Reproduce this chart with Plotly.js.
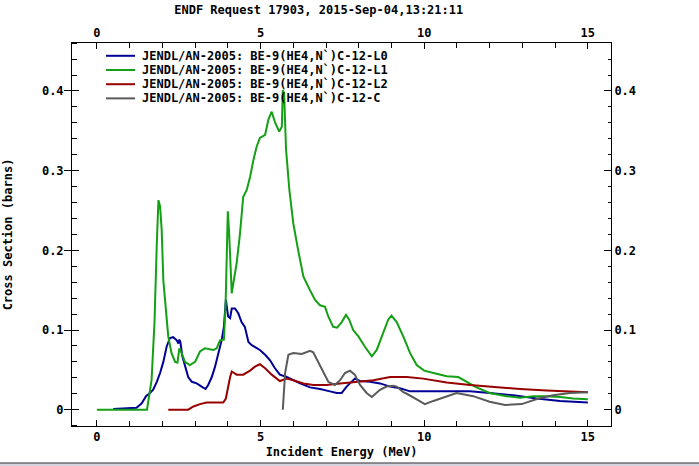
<!DOCTYPE html>
<html>
<head>
<meta charset="utf-8">
<script src="https://cdn.plot.ly/plotly-3.0.1.min.js"></script>
<style>html,body{margin:0;padding:0;background:#fff;}#chart{width:699px;height:466px;}</style>
</head>
<body>
<div id="chart"></div>
<script>
// ---- data ----
const seriesNames = [
  "JENDL/AN-2005: BE-9(HE4,N`)C-12-L0",
  "JENDL/AN-2005: BE-9(HE4,N`)C-12-L1",
  "JENDL/AN-2005: BE-9(HE4,N`)C-12-L2",
  "JENDL/AN-2005: BE-9(HE4,N`)C-12-C"
];

const l0E = [0.5, 1.21, 1.37, 1.5, 1.62, 1.72, 1.83, 1.93, 2.03, 2.13, 2.23, 2.33, 2.44, 2.49, 2.52, 2.55, 2.61, 2.69, 2.79, 2.9, 3.05, 3.2, 3.32, 3.4, 3.51, 3.61, 3.71, 3.81, 3.88, 3.94, 4.01, 4.07, 4.12, 4.22, 4.32, 4.42, 4.52, 4.63, 4.73, 4.88, 4.98, 5.14, 5.29, 5.44, 5.59, 5.8, 6.0, 6.21, 6.51, 6.82, 7.12, 7.33, 7.48, 7.63, 7.88, 8.04, 8.34, 8.65, 8.96, 9.26, 9.57, 9.87, 10.48, 11.4, 12.0, 12.72, 13.44, 14.15, 15.0];
const l0XS = [0.001, 0.0025, 0.008, 0.017, 0.021, 0.025, 0.035, 0.046, 0.060, 0.079, 0.090, 0.091, 0.087, 0.083, 0.088, 0.085, 0.067, 0.054, 0.041, 0.035, 0.033, 0.029, 0.026, 0.031, 0.041, 0.054, 0.071, 0.087, 0.104, 0.138, 0.117, 0.115, 0.127, 0.127, 0.121, 0.110, 0.104, 0.085, 0.081, 0.077, 0.075, 0.069, 0.062, 0.052, 0.044, 0.041, 0.037, 0.033, 0.028, 0.026, 0.023, 0.021, 0.021, 0.029, 0.039, 0.036, 0.035, 0.033, 0.029, 0.027, 0.023, 0.023, 0.023, 0.023, 0.021, 0.018, 0.014, 0.011, 0.009];

const l1E = [0, 1.53, 1.67, 1.76, 1.83, 1.88, 1.93, 1.98, 2.03, 2.11, 2.18, 2.28, 2.39, 2.46, 2.52, 2.59, 2.69, 2.84, 3.0, 3.15, 3.3, 3.56, 3.66, 3.76, 3.88, 3.93, 3.97, 4.0, 4.04, 4.07, 4.12, 4.17, 4.27, 4.37, 4.47, 4.58, 4.68, 4.78, 4.88, 4.98, 5.14, 5.24, 5.34, 5.44, 5.57, 5.65, 5.68, 5.72, 5.78, 5.88, 6.0, 6.15, 6.31, 6.51, 6.66, 6.82, 6.97, 7.07, 7.22, 7.34, 7.48, 7.61, 7.71, 7.83, 7.99, 8.19, 8.40, 8.55, 8.75, 8.90, 9.0, 9.16, 9.36, 9.57, 9.77, 10.0, 10.38, 10.69, 11.04, 11.3, 11.6, 12.0, 12.52, 12.93, 13.33, 13.74, 14.15, 14.56, 15.0];
const l1XS = [0, 0, 0.037, 0.11, 0.209, 0.263, 0.255, 0.225, 0.162, 0.121, 0.092, 0.071, 0.060, 0.059, 0.077, 0.071, 0.060, 0.056, 0.060, 0.073, 0.077, 0.075, 0.077, 0.087, 0.088, 0.129, 0.205, 0.249, 0.222, 0.184, 0.146, 0.159, 0.184, 0.220, 0.267, 0.276, 0.292, 0.313, 0.330, 0.341, 0.345, 0.364, 0.374, 0.361, 0.349, 0.355, 0.401, 0.397, 0.326, 0.276, 0.234, 0.200, 0.167, 0.150, 0.138, 0.131, 0.129, 0.117, 0.104, 0.103, 0.110, 0.119, 0.113, 0.100, 0.092, 0.079, 0.067, 0.075, 0.096, 0.113, 0.118, 0.110, 0.092, 0.071, 0.056, 0.049, 0.045, 0.042, 0.041, 0.035, 0.028, 0.021, 0.017, 0.015, 0.017, 0.017, 0.016, 0.014, 0.013];

const l2E = [2.18, 2.79, 2.95, 3.15, 3.35, 3.86, 3.94, 4.0, 4.07, 4.12, 4.27, 4.47, 4.68, 4.83, 4.98, 5.14, 5.34, 5.59, 5.80, 6.0, 6.31, 6.61, 7.02, 7.43, 7.94, 8.45, 8.96, 9.47, 9.97, 10.48, 10.69, 11.4, 12.21, 12.93, 13.74, 15.0];
const l2XS = [0, 0, 0.004, 0.007, 0.009, 0.009, 0.014, 0.029, 0.041, 0.048, 0.044, 0.044, 0.049, 0.054, 0.057, 0.052, 0.044, 0.036, 0.039, 0.037, 0.033, 0.031, 0.031, 0.033, 0.035, 0.037, 0.041, 0.041, 0.039, 0.036, 0.034, 0.031, 0.028, 0.026, 0.024, 0.022];

const cE = [5.68, 5.75, 5.85, 6.0, 6.26, 6.51, 6.61, 6.76, 6.92, 7.07, 7.27, 7.43, 7.58, 7.73, 7.88, 8.04, 8.24, 8.40, 8.65, 8.85, 9.06, 9.16, 9.36, 9.47, 9.77, 10.02, 10.28, 10.48, 10.99, 11.5, 12.0, 12.47, 12.98, 13.49, 13.94, 14.45, 15.0];
const cXS = [0, 0.046, 0.069, 0.071, 0.070, 0.074, 0.072, 0.060, 0.046, 0.035, 0.031, 0.037, 0.046, 0.049, 0.044, 0.031, 0.021, 0.016, 0.025, 0.029, 0.030, 0.029, 0.022, 0.020, 0.013, 0.007, 0.011, 0.014, 0.021, 0.017, 0.010, 0.006, 0.007, 0.014, 0.018, 0.021, 0.022];

const xMajorStep = 5, xMinorStep = 1;
const yMajorStep = 0.1, yMinorStep = 0.02;

// ---- styles ----
const colors = ["#000096", "#14a014", "#980000", "#5a5a5a"];
const FONT = {family: "DejaVu Sans Mono, monospace", size: 12, color: "#000", weight: "bold"};
const xRange = [-0.761, 15.708];
const yRange = [-0.02046, 0.4602];

const xs = [l0E, l1E, l2E, cE];
const ys = [l0XS, l1XS, l2XS, cXS];
const traces = xs.map((x, i) => ({
  x: x, y: ys[i], name: seriesNames[i], type: "scatter", mode: "lines",
  line: {color: colors[i], width: 2}, showlegend: false, hoverinfo: "skip"
}));
// empty carrier traces so the mirrored frame axes are drawn
traces.push({x: [null], y: [null], xaxis: "x2", yaxis: "y2", type: "scatter", mode: "lines", showlegend: false, hoverinfo: "skip"});
traces.push({x: [null], y: [null], xaxis: "x", yaxis: "y3", type: "scatter", mode: "lines", showlegend: false, hoverinfo: "skip"});

// manual legend (tight row spacing like reference)
const legRowY = [0.9666, 0.9295, 0.8924, 0.8554];
const shapes = [];
const annotations = [];
seriesNames.forEach((n, i) => {
  shapes.push({type: "line", xref: "paper", yref: "paper", x0: 0.0631, x1: 0.1169,
    y0: legRowY[i], y1: legRowY[i], line: {color: colors[i], width: 2}});
  annotations.push({xref: "paper", yref: "paper", x: 0.1256, y: legRowY[i], text: n,
    showarrow: false, xanchor: "left", yanchor: "middle", font: FONT});
});
// bottom grey bar of the window
shapes.push({type: "rect", xref: "paper", yref: "paper", x0: -0.2, x1: 1.3, y0: -0.0966, y1: -0.13,
  fillcolor: "#d6d3de", line: {width: 0}, layer: "below"});
shapes.push({type: "line", xref: "paper", yref: "paper", x0: -0.2, x1: 1.3, y0: -0.0966, y1: -0.0966,
  line: {color: "#303030", width: 1}});

const baseX = {range: xRange, autorange: false, tickmode: "linear", tick0: 0, dtick: xMajorStep,
  ticks: "inside", ticklen: 6, tickcolor: "#000",
  showline: true, linecolor: "#000", linewidth: 1, showgrid: false, zeroline: false,
  tickfont: FONT, minor: {tick0: 0, dtick: xMinorStep, ticks: "inside", ticklen: 5, tickcolor: "#000", showgrid: false}};
const baseY = {range: yRange, autorange: false, tickmode: "linear", tick0: 0, dtick: yMajorStep, tickcolor: "#000",
  showline: true, linecolor: "#000", linewidth: 1, showgrid: false, zeroline: false, tickfont: FONT};

const layout = {
  width: 699, height: 466,
  margin: {l: 72, r: 88, t: 43, b: 40, pad: 0},
  paper_bgcolor: "#fff", plot_bgcolor: "#fff",
  font: FONT,
  title: {text: "ENDF Request 17903, 2015-Sep-04,13:21:11", font: FONT, xref: "container", yref: "container",
    x: 0.456, xanchor: "center", y: 0.979, yanchor: "middle"},
  xaxis: Object.assign({}, baseX, {side: "bottom", anchor: "y",
    title: {text: "Incident Energy (MeV)", font: FONT, standoff: 4}}),
  xaxis2: Object.assign({}, baseX, {side: "top", overlaying: "x", anchor: "y2"}),
  yaxis: Object.assign({}, baseY, {side: "left", anchor: "x", ticks: "outside", ticklen: 7, ticklabelstandoff: -2,
    minor: {tick0: 0, dtick: yMinorStep, ticks: "inside", ticklen: 5, tickcolor: "#000", showgrid: false},
    title: {text: "Cross Section (barns)", font: FONT, standoff: 26}}),
  yaxis2: Object.assign({}, baseY, {side: "right", overlaying: "y", anchor: "x2", ticks: "inside", ticklen: 7,
    minor: {tick0: 0, dtick: yMinorStep, ticks: "inside", ticklen: 3, tickcolor: "#000", showgrid: false}}),
  yaxis3: Object.assign({}, baseY, {side: "left", overlaying: "y", anchor: "x", ticks: "inside", ticklen: 7,
    showticklabels: false, showline: false}),
  shapes: shapes,
  annotations: annotations,
  showlegend: false
};

Plotly.newPlot("chart", traces, layout, {staticPlot: true, displayModeBar: false});
</script>
</body>
</html>
